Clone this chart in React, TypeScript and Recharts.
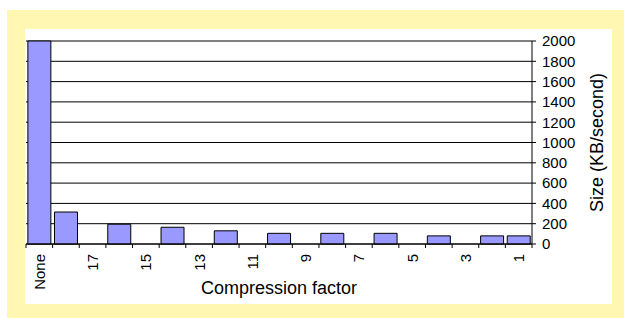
import React from 'react';
import { BarChart, Bar, XAxis, YAxis, CartesianGrid } from 'recharts';

const categories = ['None', '18', '17', '16', '15', '14', '13', '12', '11', '10', '9', '8', '7', '6', '5', '4', '3', '2', '1'];
const sizes: (number | null)[] = [2000, 315, null, 195, null, 165, null, 130, null, 105, null, 105, null, 105, null, 80, null, 80, 80];
const yTicks = [0, 200, 400, 600, 800, 1000, 1200, 1400, 1600, 1800, 2000];

const data = categories.map((c, i) => ({ cat: c, size: sizes[i] }));

const FONT = '"Liberation Sans", Arial, Helvetica, sans-serif';

const XTick = (props: any) => {
  const { x, y, payload, index } = props;
  const off = payload && typeof payload.offset === 'number' && payload.offset > 0 ? payload.offset : 13.3;
  const last = index === categories.length - 1;
  return (
    <g>
      <line x1={x - off} x2={x - off} y1={y} y2={y + 4} stroke="#000" strokeWidth={1} />
      {last && <line x1={x + off} x2={x + off} y1={y} y2={y + 4} stroke="#000" strokeWidth={1} />}
      {index % 2 === 0 && (
        <text
          x={x}
          y={y + 10}
          transform={`rotate(-90, ${x}, ${y + 10})`}
          textAnchor="end"
          dominantBaseline="central"
          fontSize={15}
          fontFamily={FONT}
          fill="#000"
        >
          {payload.value}
        </text>
      )}
    </g>
  );
};

export default function App() {
  return (
    <div style={{ position: 'absolute', left: 7, top: 10, width: 617, height: 308, background: '#FFF7B2' }}>
      <div style={{ position: 'absolute', left: 18, top: 19, width: 587, height: 275, background: '#FFFFFF' }}>
        <BarChart
          width={587}
          height={275}
          data={data}
          margin={{ top: 12, right: 0, left: 1, bottom: 0 }}
          barCategoryGap="7%"
          style={{ fontFamily: FONT }}
        >
          <CartesianGrid horizontal vertical={false} stroke="#000" strokeOpacity={1} />
          <XAxis
            dataKey="cat"
            interval={0}
            height={60}
            tickSize={0}
            tickMargin={0}
            tickLine={false}
            axisLine={{ stroke: '#000' }}
            tick={<XTick />}
            label={{ value: 'Compression factor', position: 'insideBottom', offset: 10, fontSize: 18, fill: '#000', fontFamily: FONT }}
          />
          <XAxis xAxisId="top" dataKey="cat" orientation="top" height={0} tick={false} tickLine={false} axisLine={{ stroke: '#888' }} />
          <YAxis
            orientation="right"
            width={80}
            domain={[0, 2000]}
            ticks={yTicks}
            interval={0}
            tickSize={4}
            tickMargin={6}
            axisLine={{ stroke: '#000' }}
            tickLine={{ stroke: '#000' }}
            tick={{ fontSize: 15, fill: '#000', fontFamily: FONT }}
            label={{ value: 'Size (KB/second)', angle: -90, position: 'center', dx: 25, fontSize: 18, fill: '#000', fontFamily: FONT }}
          />
          <YAxis yAxisId="left" orientation="left" width={0} domain={[0, 2000]} tick={false} tickLine={false} axisLine={{ stroke: '#888' }} />
          <Bar dataKey="size" fill="#9999FF" stroke="#000" strokeWidth={1} isAnimationActive={false} />
        </BarChart>
      </div>
    </div>
  );
}
